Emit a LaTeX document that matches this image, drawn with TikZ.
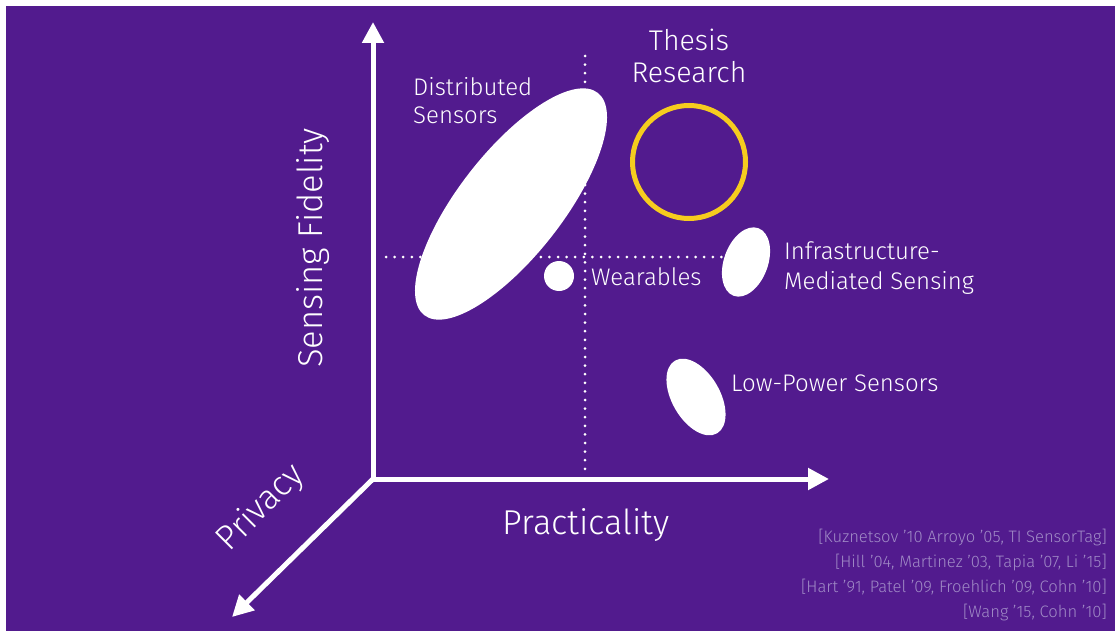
\documentclass[tikz,border=0pt]{standalone}
\usepackage{fontspec}
\setmainfont{Fira Sans}[UprightFont=* Light]
\usetikzlibrary{arrows.meta,shapes.geometric}
\definecolor{bgpurple}{RGB}{82,27,142}
\definecolor{ringyellow}{RGB}{246,204,30}
\definecolor{refgray}{RGB}{160,138,198}
\begin{document}
\begin{tikzpicture}[x=1pt,y=-1pt,
  axisline/.style={white,line width=5pt,-{Triangle[length=21pt,width=21pt]}},
  guide/.style={white,line width=3pt,line cap=round,dash pattern=on 0pt off 8.6pt},
  blob/.style={ellipse,fill=white,draw=none,inner sep=0pt},
  lbl/.style={white,font=\fontsize{24}{29}\selectfont,inner sep=0pt,align=left},
  axislbl/.style={white,font=\fontsize{34.5}{40}\selectfont,inner sep=0pt},
  ref/.style={refgray,font=\fontsize{16.6}{19}\selectfont,inner sep=0pt,anchor=east}]
  % canvas
  \useasboundingbox (0,0) rectangle (1115,631);
  \fill[white] (0,0) rectangle (1115,631);
  \fill[bgpurple] (6,6) rectangle (1115,631);

  % axes
  \coordinate (o) at (373,479);
  \coordinate (ytip) at (373,22);
  \coordinate (xtip) at (829,479);
  \coordinate (ztip) at (232,617);

  % dotted guide lines
  \coordinate (vtop) at (585,56);
  \coordinate (vbot) at (585,470);
  \coordinate (hl) at (386,257);
  \coordinate (hr) at (724,257);
  \draw[guide] (vtop) -- (vbot);
  \draw[guide] (hl) -- (hr);

  \draw[axisline] (o) -- (ytip);
  \draw[axisline] (o) -- (xtip);
  \draw[axisline] (o) -- (ztip);

  % regions
  \node[blob,minimum width=282pt,minimum height=104pt,rotate=52] (dist) at (511,204) {};
  \node[blob,minimum width=30pt,minimum height=30pt] (wear) at (559,276) {};
  \node[blob,minimum width=72pt,minimum height=44pt,rotate=70] (infra) at (746,262) {};
  \node[blob,minimum width=84pt,minimum height=48pt,rotate=-60] (lowp) at (696,397) {};
  \node[circle,draw=ringyellow,line width=5pt,minimum size=113pt,inner sep=0pt] (thesis) at (689,162) {};

  % labels
  \node[white,font=\fontsize{28.5}{32}\selectfont,inner sep=0pt,align=center] (thesislbl) at (689,56) {Thesis\\Research};
  \node[lbl,anchor=west,font=\fontsize{24}{28}\selectfont] (distlbl) at (413,101) {Distributed\\Sensors};
  \node[lbl,anchor=west] (wearlbl) at (591,277) {Wearables};
  \node[lbl,anchor=west,font=\fontsize{24}{30}\selectfont] (infralbl) at (784,268) {Infrastructure-\\Mediated Sensing};
  \node[lbl,anchor=west] (lowplbl) at (731,383) {Low-Power Sensors};

  \node[axislbl,rotate=90] (ylbl) at (313,248) {Sensing Fidelity};
  \node[axislbl] (xlbl) at (586,525) {Practicality};
  \node[axislbl,rotate=45] (zlbl) at (261,508) {Privacy};

  % references
  \node[ref] (r1) at (1107,537) {[Kuznetsov '10 Arroyo '05, TI SensorTag]};
  \node[ref] (r2) at (1107,562) {[Hill '04, Martinez '03, Tapia '07, Li '15]};
  \node[ref] (r3) at (1107,587) {[Hart '91, Patel '09, Froehlich '09, Cohn '10]};
  \node[ref] (r4) at (1107,612) {[Wang '15, Cohn '10]};
\end{tikzpicture}
\end{document}
